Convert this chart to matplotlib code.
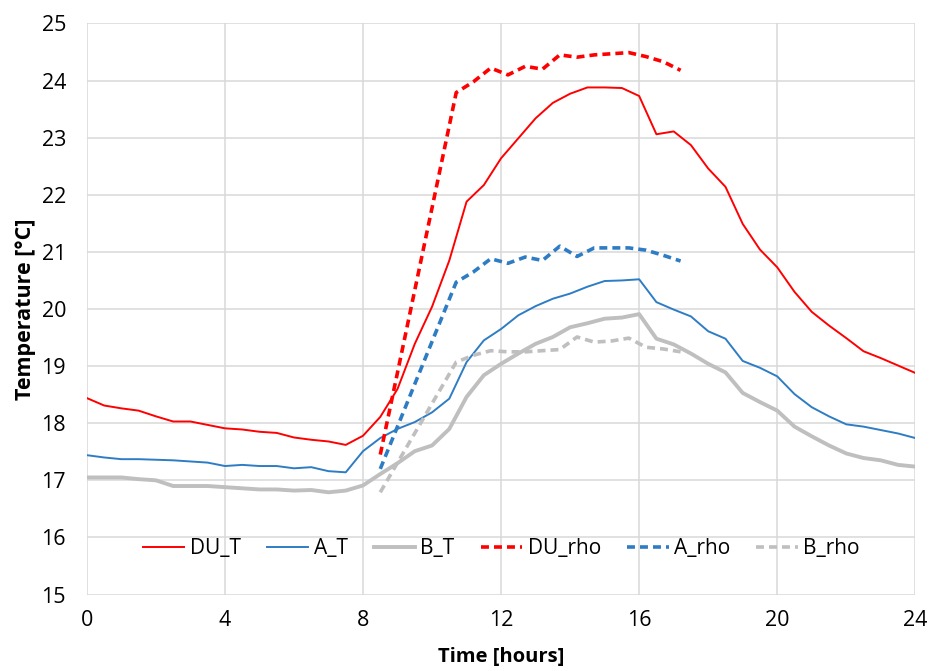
import numpy as np
import matplotlib
matplotlib.use("Agg")
import matplotlib.pyplot as plt

plt.rcParams["font.family"] = ["Open Sans", "DejaVu Sans"]

RED, BLUE, GREY = "#ff0000", "#2e7dc4", "#bfbfbf"

# half-hourly temperatures
t_hours = np.arange(0, 24.01, 0.5)
du_t = [18.44, 18.31, 18.26, 18.22, 18.12, 18.03, 18.03, 17.97, 17.91, 17.89,
        17.85, 17.83, 17.75, 17.71, 17.68, 17.62, 17.78, 18.11, 18.60, 19.39,
        20.04, 20.85, 21.88, 22.17, 22.64, 22.99, 23.34, 23.61, 23.77, 23.88,
        23.88, 23.87, 23.73, 23.06, 23.11, 22.87, 22.46, 22.14, 21.49, 21.04,
        20.73, 20.30, 19.95, 19.71, 19.49, 19.26, 19.14, 19.01, 18.88]
a_t = [17.44, 17.40, 17.37, 17.37, 17.36, 17.35, 17.33, 17.31, 17.25, 17.27,
       17.25, 17.25, 17.21, 17.23, 17.16, 17.14, 17.51, 17.74, 17.90, 18.02,
       18.19, 18.43, 19.07, 19.45, 19.65, 19.89, 20.05, 20.18, 20.27, 20.39,
       20.49, 20.50, 20.52, 20.12, 19.99, 19.87, 19.61, 19.48, 19.09, 18.97,
       18.82, 18.51, 18.28, 18.12, 17.98, 17.94, 17.88, 17.82, 17.74]
b_t = [17.05, 17.05, 17.05, 17.02, 17.00, 16.90, 16.90, 16.90, 16.88, 16.86,
       16.84, 16.84, 16.82, 16.83, 16.79, 16.82, 16.91, 17.11, 17.30, 17.51,
       17.61, 17.90, 18.46, 18.84, 19.04, 19.22, 19.39, 19.51, 19.68, 19.75,
       19.83, 19.85, 19.91, 19.48, 19.38, 19.22, 19.04, 18.89, 18.53, 18.37,
       18.22, 17.94, 17.77, 17.61, 17.47, 17.39, 17.35, 17.27, 17.24]

# rho-based series (different time base)
t_rho = [8.5, 10.7, 11.2, 11.7, 12.2, 12.7, 13.2, 13.7, 14.2, 14.7, 15.2, 15.7, 16.2, 16.7, 17.2]
du_rho = [17.45, 23.79, 23.98, 24.22, 24.10, 24.25, 24.20, 24.45, 24.41, 24.45,
          24.47, 24.49, 24.42, 24.33, 24.18]
a_rho = [17.2, 20.47, 20.65, 20.88, 20.80, 20.91, 20.85, 21.10, 20.92, 21.07,
         21.07, 21.07, 21.03, 20.94, 20.84]
b_rho = [16.79, 19.07, 19.19, 19.27, 19.25, 19.25, 19.27, 19.29, 19.51, 19.42,
         19.44, 19.49, 19.33, 19.30, 19.25]

fig = plt.figure(figsize=(9.34, 6.71), dpi=100)
ax = fig.add_axes([0.093, 0.114, 0.887, 0.851])

ax.plot(t_hours, du_t, color=RED, lw=1.4, label="DU_T")
ax.plot(t_hours, a_t, color=BLUE, lw=1.4, label="A_T")
ax.plot(t_hours, b_t, color=GREY, lw=2.8, label="B_T")
ax.plot(t_rho, du_rho, color=RED, lw=2.6, ls=(0, (2.2, 1.4)), label="DU_rho")
ax.plot(t_rho, a_rho, color=BLUE, lw=2.6, ls=(0, (2.2, 1.4)), label="A_rho")
ax.plot(t_rho, b_rho, color=GREY, lw=2.6, ls=(0, (2.2, 1.4)), label="B_rho")

ax.set_xlim(0, 24); ax.set_ylim(15, 25)
ax.set_xticks(range(0, 25, 4)); ax.set_yticks(range(15, 26))
ax.grid(True, color="#d9d9d9", lw=1.1)
ax.set_axisbelow(True)
for s in ax.spines.values():
    s.set_visible(False)
ax.tick_params(length=0, labelsize=15.5)
ax.tick_params(axis="y", pad=15)
ax.tick_params(axis="x", pad=11)
ax.set_xlabel("Time [hours]", fontsize=14.5, fontweight="bold", labelpad=12)
ax.set_ylabel("Temperature [°C]", fontsize=15.5, fontweight="bold", labelpad=4)

ax.legend(loc="center", bbox_to_anchor=(0.5, 0.08), ncol=6, frameon=False,
          fontsize=15, handlelength=2.0, handletextpad=0.25, columnspacing=1.25)

fig.savefig("out.png", dpi=100)
